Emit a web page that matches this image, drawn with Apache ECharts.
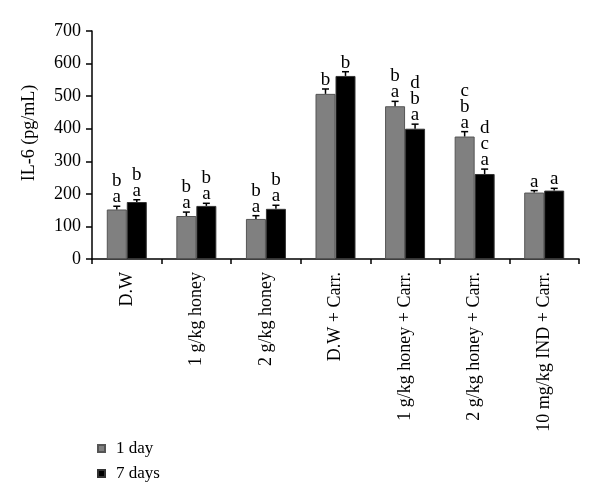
<!DOCTYPE html>
<html>
<head>
<meta charset="utf-8">
<script src="https://cdn.jsdelivr.net/npm/echarts@6/dist/echarts.min.js"></script>
<style>html,body{margin:0;padding:0;background:#fff}#c{width:600px;height:502px}</style>
</head>
<body>
<div id="c"></div>
<script>
var categories = ['D.W', '1 g/kg honey', '2 g/kg honey', 'D.W + Carr.', '1 g/kg honey + Carr.', '2 g/kg honey + Carr.', '10 mg/kg IND + Carr.'];
var seriesNames = ['1 day', '7 days'];
var day1 = [152, 132, 123, 507, 469, 376, 204];
var day7 = [175, 163, 154, 562, 400, 261, 210];
var err1 = [10, 12, 10, 15, 15, 15, 6];
var err7 = [7, 8, 11, 13, 14, 15, 7];
var letters1 = [['b','a'], ['b','a'], ['b','a'], ['b'], ['b','a'], ['c','b','a'], ['a']];
var letters7 = [['b','a'], ['b','a'], ['b','a'], ['b'], ['d','b','a'], ['d','c','a'], ['a']];
var yTicks = { min: 0, max: 700, interval: 100 };

var FONT = '"Liberation Serif", "DejaVu Serif", serif';
var BAR_W = 20;

function errData(vals, errs) {
  return vals.map(function (v, i) { return [i, v, errs[i]]; });
}

function makeErrRender(side) {
  return function (params, api) {
    var idx = api.value(0);
    var top = api.value(1) + api.value(2);
    var base = api.coord([idx, api.value(1)]);
    var tp = api.coord([idx, top]);
    var x = base[0] + side * BAR_W / 2;
    var cap = 3.5;
    var letters = (side < 0 ? letters1 : letters7)[params.dataIndex].join('\n');
    return {
      type: 'group',
      children: [
        { type: 'line', shape: { x1: x, y1: base[1], x2: x, y2: tp[1] }, style: { stroke: '#000', lineWidth: 1.5 } },
        { type: 'line', shape: { x1: x - cap, y1: tp[1], x2: x + cap, y2: tp[1] }, style: { stroke: '#000', lineWidth: 1.5 } },
        { type: 'text', x: x, y: tp[1] - 1, style: { text: letters, fill: '#000', font: '19px ' + FONT, align: 'center', verticalAlign: 'bottom', lineHeight: 16 } }
      ]
    };
  };
}

var chart = echarts.init(document.getElementById('c'), null, { renderer: 'canvas' });
chart.setOption({
  animation: false,
  backgroundColor: '#fff',
  grid: { left: 92, right: 21, top: 31, bottom: 243, containLabel: false },
  legend: {
    orient: 'vertical', left: 92, top: 435, itemWidth: 7, itemHeight: 7, itemGap: 8, icon: 'rect',
    data: seriesNames,
    textStyle: { fontFamily: FONT, fontSize: 17, color: '#000', padding: [0, 0, 0, 6] }
  },
  xAxis: {
    type: 'category', data: categories,
    axisLine: { lineStyle: { color: '#000', width: 1.5 } },
    axisTick: { show: true, length: 5, lineStyle: { color: '#000', width: 1.5 } },
    axisLabel: { rotate: 90, color: '#000', fontFamily: FONT, fontSize: 18, margin: 13, interval: 0 }
  },
  yAxis: {
    type: 'value', min: yTicks.min, max: yTicks.max, interval: yTicks.interval,
    name: 'IL-6 (pg/mL)', nameLocation: 'middle', nameGap: 54, nameRotate: 90,
    nameTextStyle: { fontFamily: FONT, fontSize: 18, color: '#000', padding: [0, 0, 0, 24] },
    axisLine: { show: true, lineStyle: { color: '#000', width: 1.5 } },
    axisTick: { show: true, length: 6, lineStyle: { color: '#000', width: 1.5 } },
    axisLabel: { color: '#000', fontFamily: FONT, fontSize: 18, margin: 11 },
    splitLine: { show: false }
  },
  series: [
    { name: seriesNames[0], type: 'bar', data: day1, barWidth: BAR_W, barGap: '0%',
      itemStyle: { color: '#808080', borderColor: '#555', borderWidth: 1 } },
    { name: seriesNames[1], type: 'bar', data: day7, barWidth: BAR_W, barGap: '0%',
      itemStyle: { color: '#000', borderColor: '#333', borderWidth: 1 } },
    { type: 'custom', data: errData(day1, err1), renderItem: makeErrRender(-1), z: 5, encode: { x: 0, y: 1 } },
    { type: 'custom', data: errData(day7, err7), renderItem: makeErrRender(1), z: 5, encode: { x: 0, y: 1 } }
  ]
});
</script>
</body>
</html>
